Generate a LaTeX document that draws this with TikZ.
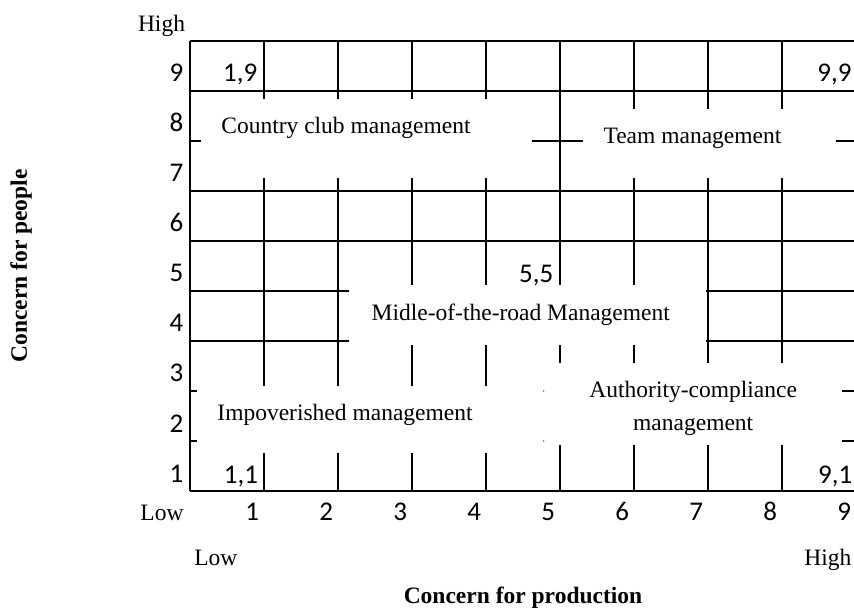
\documentclass[tikz,border=0pt]{standalone}
\usepackage{fontspec}
\setmainfont{Liberation Serif}
\newfontfamily\numfont{Carlito}

\tikzset{
  lbl/.style={font=\fontsize{23.5}{33}\selectfont, inner sep=0pt},
  num/.style={font=\numfont\fontsize{27}{30}\selectfont, inner sep=0pt},
  axislbl/.style={font=\bfseries\fontsize{23.5}{28}\selectfont, inner sep=0pt}
}

\begin{document}
\begin{tikzpicture}[x=74pt,y=50pt,line width=1.6pt]
   \useasboundingbox (-2.5676,-2.34) rectangle (8.973,9.82);

   % horizontal rules
   \foreach \j in {0,5,6,8,9}
   {
      \draw (0,\j) -- (9,\j);
   }
   \foreach \j in {3,4}
   {
      \draw (0,\j) -- (2.15,\j);
      \draw (6.97,\j) -- (9,\j);
   }
   \foreach \j in {1,2}
   {
      \draw (0,\j) -- (0.1,\j);
      \draw (8.81,\j) -- (9,\j);
      \fill (4.78,\j) circle (0.7pt);
   }
   \draw (0,7) -- (0.15,7);
   \draw (4.62,7) -- (5.31,7);
   \draw (8.73,7) -- (9,7);

   % vertical rules
   \draw (0,0) -- (0,9);
   \draw (9,0) -- (9,9);
   \draw (5,9) -- (5,4.12) (5,2.92) -- (5,2.56) (5,0.92) -- (5,0);
   \foreach \i in {1,...,4}
   {
      \draw (\i,9) -- (\i,7.84);
      \draw (\i,0.76) -- (\i,0);
   }
   \foreach \i in {6,7,8}
   {
      \draw (\i,9) -- (\i,7.64);
      \draw (\i,0.92) -- (\i,0);
   }
   \foreach \i in {1,2}
   {
      \draw (\i,6.26) -- (\i,2.1);
   }
   \foreach \i in {3,4}
   {
      \draw (\i,6.26) -- (\i,4.12);
      \draw (\i,2.92) -- (\i,2.1);
   }
   \draw (6,6.26) -- (6,4.12) (6,2.92) -- (6,2.56);
   \foreach \i in {7,8}
   {
      \draw (\i,6.26) -- (\i,2.56);
   }

   % scale numbers
   \foreach \i in {1,...,9}
   {
      \node[num,anchor=base east] (row\i) at (-0.08,{\i-0.82}) {\i};
      \node[num,anchor=base] (col\i) at ({\i-0.16},-0.58) {\i};
   }

   % corner scores
   \node[num,anchor=base east] (s19) at (0.92,8.18) {1,9};
   \node[num,anchor=base east] (s99) at (8.95,8.18) {9,9};
   \node[num,anchor=base east] (s55) at (4.92,4.16) {5,5};
   \node[num,anchor=base east] (s11) at (0.93,0.16) {1,1};
   \node[num,anchor=base east] (s91) at (8.96,0.16) {9,1};

   % styles
   \node[lbl] (country) at (2.108,7.26) {Country club management};
   \node[lbl] (team) at (6.79,7.06) {Team management};
   \node[lbl] (middle) at (4.47,3.52) {Midle-of-the-road Management};
   \node[lbl] (impov) at (2.095,1.52) {Impoverished management};
   \node[lbl,align=center] (authority) at (6.80,1.65) {Authority-compliance\\management};

   % axes
   \node[lbl,anchor=base] (yhigh) at (-0.385,9.19) {High};
   \node[lbl,anchor=base] (ylow) at (-0.378,-0.58) {Low};
   \node[lbl,anchor=base] (xlow) at (0.35,-1.48) {Low};
   \node[lbl,anchor=base] (xhigh) at (8.62,-1.48) {High};
   \node[axislbl,anchor=base] (xaxis) at (4.5,-2.24) {Concern for production};
   \node[axislbl,rotate=90] (yaxis) at (-2.284,4.5) {Concern for people};
\end{tikzpicture}
\end{document}
